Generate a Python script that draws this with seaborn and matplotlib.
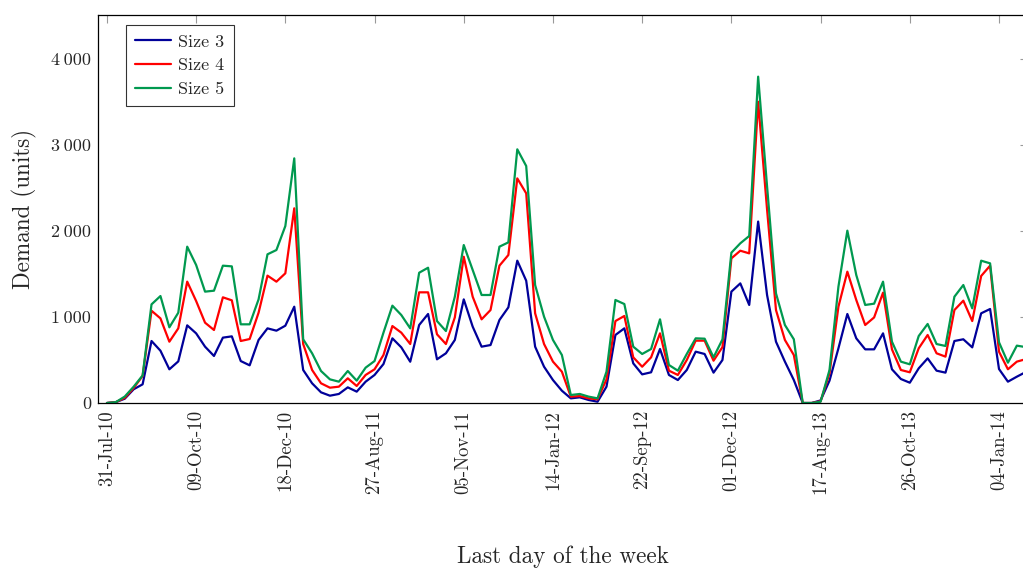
import numpy as np
import pandas as pd
import matplotlib
matplotlib.use("Agg")
import matplotlib.pyplot as plt
import seaborn as sns

size3 = [0, 10, 50, 160, 217, 721, 608, 392, 484, 903,
         810, 655, 547, 760, 775, 488, 438, 733, 868, 841,
         899, 1120, 384, 229, 124, 85, 105, 182, 132, 248,
         326, 453, 752, 647, 480, 907, 1035, 508, 578, 733,
         1205, 888, 655, 674, 965, 1112, 1655, 1422, 655, 422,
         267, 143, 54, 66, 35, 15, 190, 791, 868, 461,
         333, 357, 628, 326, 267, 384, 597, 570, 353, 500,
         1295, 1391, 1140, 2110, 1256, 713, 481, 267, 0, 0,
         30, 260, 636, 1035, 752, 624, 624, 810, 392, 279,
         236, 403, 519, 376, 353, 721, 741, 647, 1043, 1093,
         395, 248, 306, 360]
size4 = [0, 10, 60, 175, 314, 1073, 984, 713, 868, 1411,
         1186, 934, 849, 1229, 1194, 721, 744, 1050, 1481, 1411,
         1508, 2264, 686, 384, 229, 178, 190, 287, 198, 326,
         392, 558, 895, 818, 686, 1287, 1287, 799, 686, 996,
         1701, 1236, 973, 1081, 1597, 1721, 2612, 2438, 1043, 686,
         481, 364, 74, 81, 54, 43, 275, 953, 1012, 531,
         422, 531, 810, 376, 326, 500, 725, 725, 492, 650,
         1682, 1771, 1740, 3504, 2250, 1081, 733, 558, 0, 0,
         20, 345, 1120, 1527, 1198, 907, 995, 1283, 624, 384,
         357, 636, 791, 578, 539, 1081, 1190, 953, 1477, 1597,
         597, 392, 481, 510]
size5 = [0, 10, 75, 190, 320, 1147, 1244, 880, 1050, 1818,
         1605, 1295, 1306, 1597, 1589, 915, 915, 1205, 1729, 1779,
         2058, 2845, 741, 578, 372, 275, 248, 372, 260, 411,
         488, 818, 1132, 1023, 868, 1515, 1573, 953, 837, 1236,
         1837, 1547, 1256, 1256, 1818, 1868, 2950, 2756, 1372, 1004,
         733, 558, 93, 105, 74, 54, 364, 1198, 1151, 655,
         570, 628, 973, 442, 376, 570, 752, 748, 531, 740,
         1748, 1857, 1942, 3795, 2520, 1275, 907, 741, 0, 0,
         15, 384, 1353, 2004, 1488, 1140, 1155, 1411, 713, 481,
         450, 779, 919, 686, 663, 1236, 1372, 1101, 1655, 1624,
         706, 469, 667, 650]

series_names = ["Size 3", "Size 4", "Size 5"]
tick_labels = ["31-Jul-10", "09-Oct-10", "18-Dec-10", "27-Aug-11", "05-Nov-11",
               "14-Jan-12", "22-Sep-12", "01-Dec-12", "17-Aug-13", "26-Oct-13",
               "04-Jan-14"]
tick_idx = list(range(0, 110, 10))[:len(tick_labels)]
y_ticks = [0, 1000, 2000, 3000, 4000]
y_tick_labels = ["0", "1\u2009000", "2\u2009000", "3\u2009000", "4\u2009000"]
colors = ["#000099", "#FF0000", "#00994F"]

n = len(size3)
df = pd.DataFrame({
    "week": np.tile(np.arange(n), 3),
    "demand": size3 + size4 + size5,
    "size": np.repeat(series_names, n),
})

sns.set_style("white")
plt.rcParams["font.family"] = ["cmr10", "DejaVu Serif"]
plt.rcParams["axes.formatter.use_mathtext"] = True

fig = plt.figure(figsize=(10.23, 5.70), dpi=100)
ax = fig.add_axes([98 / 1023, 167 / 570, 930 / 1023, 388 / 570])

sns.lineplot(data=df, x="week", y="demand", hue="size", palette=colors,
             linewidth=1.6, ax=ax, legend=True)

ax.set_xlim(-1, 103.25)
ax.set_ylim(0, 4512)
ax.set_xticks(tick_idx)
ax.set_xticklabels(tick_labels, rotation=90, fontsize=13.5)
ax.set_yticks(y_ticks)
ax.set_yticklabels(y_tick_labels, fontsize=13)
ax.tick_params(axis="both", direction="in", length=6, width=0.8, color="0.6",
               top=True, right=True, pad=5)
for s in ax.spines.values():
    s.set_color("black")
    s.set_linewidth(0.9)

ax.set_xlabel("Last day of the week", fontsize=16.7, labelpad=37)
ax.set_ylabel("Demand (units)", fontsize=16.7, labelpad=10)

leg = ax.legend(loc="upper left", bbox_to_anchor=(28 / 930, 1 - 10 / 388),
                borderaxespad=0, frameon=True, fancybox=False, fontsize=13,
                handlelength=2.0, handletextpad=0.4, labelspacing=0.45,
                borderpad=0.5)
leg.get_frame().set_edgecolor("black")
leg.get_frame().set_linewidth(0.8)

fig.savefig("out.png", dpi=100)
